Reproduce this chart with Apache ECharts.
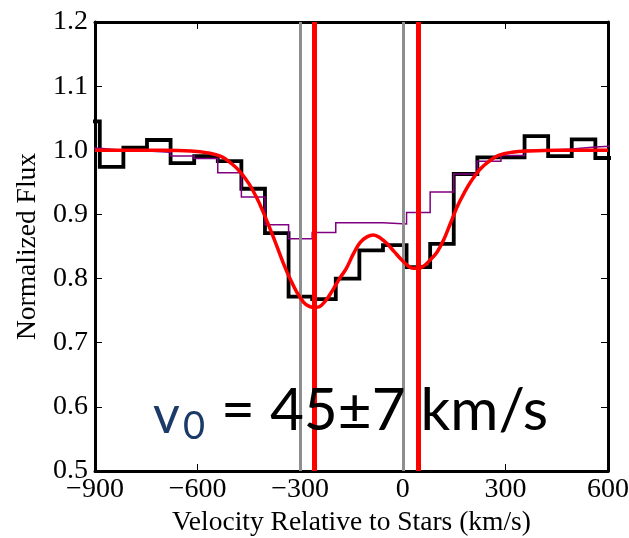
<!DOCTYPE html>
<html>
<head>
<meta charset="utf-8">
<script src="https://cdn.jsdelivr.net/npm/echarts@6/dist/echarts.min.js"></script>
<style>
  html, body { margin: 0; padding: 0; background: #fff; }
  #chart { width: 629px; height: 538px; }
</style>
</head>
<body>
<div id="chart"></div>
<script>
// Spectral bins (left/right edges, km/s) and the fluxes in each bin
const binEdges = [-955, -886, -817, -748, -679, -610, -541, -472, -403, -334, -265,
  -196, -127, -58, 11, 80, 149, 218, 287, 356, 425, 494, 563, 632];
const observedFlux = [1.045, 0.974, 1.004, 1.016, 0.980, 0.991, 0.983, 0.940, 0.871, 0.772,
  0.768, 0.800, 0.844, 0.852, 0.818, 0.854, 0.963, 0.989, 0.989, 1.022, 0.991, 1.017, 0.988];
const modelFlux = [1.003, 1.000, 0.999, 0.997, 0.991, 0.987, 0.965, 0.927, 0.884, 0.862,
  0.872, 0.887, 0.887, 0.885, 0.903, 0.935, 0.963, 0.983, 0.992, 1.000, 1.002, 1.005, 1.007];

// Two-component absorption fit
const fitVelocity = [-900, -800, -700, -620, -570, -530, -500, -475, -450, -430, -410, -390,
  -370, -350, -330, -310, -290, -275, -262, -245, -225, -205, -185, -165, -145, -125, -105,
  -86, -65, -45, -25, -5, 15, 30, 45, 60, 80, 100, 120, 140, 160, 180, 200, 225, 250, 280,
  320, 370, 450, 600];
const fitFlux = [1.000, 1.000, 1.000, 0.999, 0.996, 0.990, 0.979, 0.966, 0.948, 0.929, 0.906,
  0.880, 0.853, 0.825, 0.800, 0.779, 0.763, 0.757, 0.755, 0.756, 0.766, 0.782, 0.800, 0.816,
  0.838, 0.856, 0.865, 0.868, 0.863, 0.854, 0.842, 0.830, 0.820, 0.816, 0.816, 0.819, 0.829,
  0.841, 0.861, 0.887, 0.913, 0.934, 0.952, 0.970, 0.982, 0.992, 0.997, 0.999, 1.000, 1.000];

// Reference velocities: stellar systemic (grey) and fitted components (red)
const stellarVelocities = [-300, 0];
const componentVelocities = [-260, 45];

// Axis ranges
const xRange = [-900, 600], xStep = 300;
const yRange = [0.5, 1.2], yStep = 0.1;

const serif = '"Liberation Serif", "DejaVu Serif", serif';
const sans = 'Lato, "Open Sans", sans-serif';

function stepPoints(edges, values) {
  const pts = [];
  values.forEach((v, i) => {
    pts.push([edges[i], v]);
    pts.push([edges[i + 1], v]);
  });
  return pts;
}

const minus = v => (v < 0 ? '\u2212' + Math.abs(v) : String(v));

const spine = { show: true, onZero: false, lineStyle: { color: '#000', width: 3 } };
const tick = { show: true, inside: true, length: 7, lineStyle: { color: '#000', width: 1 } };

const chart = echarts.init(document.getElementById('chart'), null, { renderer: 'canvas' });
chart.setOption({
  animation: false,
  backgroundColor: '#fff',
  grid: { left: 95, right: 21, top: 22, bottom: 67, containLabel: false, outerBoundsMode: 'none' },
  xAxis: [
    {
      type: 'value', min: xRange[0], max: xRange[1], interval: xStep, position: 'bottom',
      axisLine: spine, axisTick: tick, splitLine: { show: false },
      axisLabel: { formatter: minus, color: '#000', fontFamily: serif, fontSize: 28, margin: 5 },
      name: 'Velocity Relative to Stars (km/s)', nameLocation: 'middle', nameGap: 37,
      nameTextStyle: { color: '#000', fontFamily: serif, fontSize: 27.5 }
    },
    {
      type: 'value', min: xRange[0], max: xRange[1], interval: xStep, position: 'top',
      axisLine: spine, axisTick: tick, axisLabel: { show: false }, splitLine: { show: false }
    }
  ],
  yAxis: [
    {
      type: 'value', min: yRange[0], max: yRange[1], interval: yStep, position: 'left',
      axisLine: spine, axisTick: tick, splitLine: { show: false },
      axisLabel: { formatter: v => v.toFixed(1), color: '#000', fontFamily: serif, fontSize: 28, margin: 7 },
      name: 'Normalized Flux', nameLocation: 'middle', nameGap: 53, nameRotate: 90,
      nameTextStyle: { color: '#000', fontFamily: serif, fontSize: 27.5 }
    },
    {
      type: 'value', min: yRange[0], max: yRange[1], interval: yStep, position: 'right',
      axisLine: spine, axisTick: tick, axisLabel: { show: false }, splitLine: { show: false }
    }
  ],
  series: [
    {
      name: 'observed', type: 'line', data: stepPoints(binEdges, observedFlux),
      showSymbol: false, z: 2, clip: true,
      lineStyle: { color: '#000', width: 3.8, join: 'miter' }
    },
    {
      name: 'model', type: 'line', data: stepPoints(binEdges, modelFlux),
      showSymbol: false, z: 3, clip: true,
      lineStyle: { color: '#800080', width: 1.5, join: 'miter' }
    },
    {
      name: 'stellar', type: 'line', data: [], z: 4,
      markLine: {
        silent: true, symbol: 'none', label: { show: false },
        lineStyle: { color: '#8e8e8e', width: 3, type: 'solid' },
        data: stellarVelocities.map(v => ({ xAxis: v }))
      }
    },
    {
      name: 'fit', type: 'line', data: fitVelocity.map((v, i) => [v, fitFlux[i]]),
      smooth: 0.4, showSymbol: false, z: 5, clip: true,
      lineStyle: { color: '#ff0000', width: 3.5 }
    },
    {
      name: 'components', type: 'line', data: [], z: 6,
      markLine: {
        silent: true, symbol: 'none', label: { show: false },
        lineStyle: { color: '#ff0000', width: 5, type: 'solid' },
        data: componentVelocities.map(v => ({ xAxis: v }))
      }
    }
  ],
  graphic: [
    {
      type: 'text', z: 100, style: {
        x: 153, y: 416, text: 'v', verticalAlign: 'middle',
        font: '52px ' + sans, fill: '#1b3a68'
      }
    },
    {
      type: 'text', z: 100, style: {
        x: 183, y: 427, text: '0', verticalAlign: 'middle',
        font: '38px ' + sans, fill: '#1b3a68'
      }
    },
    {
      type: 'text', z: 100, style: {
        x: 221, y: 411, text: '= 45\u00b17 km/s', verticalAlign: 'middle',
        font: '58.5px ' + sans, fill: '#000'
      }
    }
  ]
});
</script>
</body>
</html>
